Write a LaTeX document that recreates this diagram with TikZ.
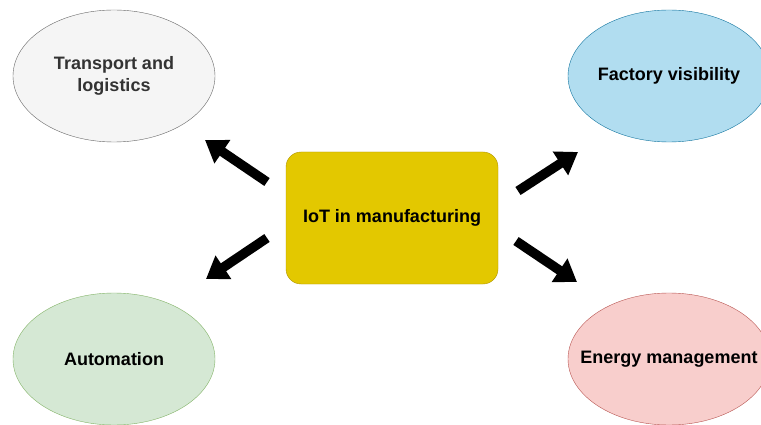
\documentclass[tikz,border=0pt]{standalone}
\usepackage{fontspec}
\setmainfont{Liberation Sans}
\usetikzlibrary{shapes.geometric,arrows.meta}
\definecolor{hubfill}{HTML}{E3C800}
\definecolor{hubline}{HTML}{B09500}
\definecolor{grayfill}{HTML}{F5F5F5}
\definecolor{grayline}{HTML}{666666}
\definecolor{bluefill}{HTML}{B1DDF0}
\definecolor{blueline}{HTML}{10739E}
\definecolor{greenfill}{HTML}{D5E8D4}
\definecolor{greenline}{HTML}{82B366}
\definecolor{redfill}{HTML}{F8CECC}
\definecolor{redline}{HTML}{B85450}
\begin{document}
\begin{tikzpicture}[x=1pt,y=-1pt,
    area/.style={ellipse,draw,minimum width=202pt,minimum height=132pt,inner sep=0pt,
      align=center,font=\fontsize{18}{21.5}\selectfont\bfseries},
    hub/.style={rectangle,rounded corners=15pt,draw=hubline,fill=hubfill,
      minimum width=212pt,minimum height=132pt,font=\fontsize{18}{21.5}\selectfont\bfseries},
    fat/.style={line width=9.5pt,-{Triangle[length=21pt,width=27pt]}}]
            \clip (0,0) rectangle (761,425);
            \fill[white] (0,0) rectangle (761,425);
            \node[hub] (iot) at (392,218) {IoT in manufacturing};
            \node[area,draw=grayline,fill=grayfill,text=black!80] (transport) at (114,76) {Transport and\\logistics};
            \node[area,draw=blueline,fill=bluefill] (factory) at (669,76) {\makebox[0pt]{Factory visibility}};
            \node[area,draw=greenline,fill=greenfill] (automation) at (114,359) {Automation};
            \node[area,draw=redline,fill=redfill] (energy) at (669,359) {\makebox[0pt]{Energy management}};
            \coordinate (tl-from) at (267,182);
            \coordinate (tl-to) at (205,140);
            \coordinate (tr-from) at (518,191);
            \coordinate (tr-to) at (578,152);
            \coordinate (bl-from) at (267,238);
            \coordinate (bl-to) at (206,279);
            \coordinate (br-from) at (516,241);
            \coordinate (br-to) at (577,282);
            \draw[fat] (tl-from) -- (tl-to);
            \draw[fat] (tr-from) -- (tr-to);
            \draw[fat] (bl-from) -- (bl-to);
            \draw[fat] (br-from) -- (br-to);
        \end{tikzpicture}
\end{document}
